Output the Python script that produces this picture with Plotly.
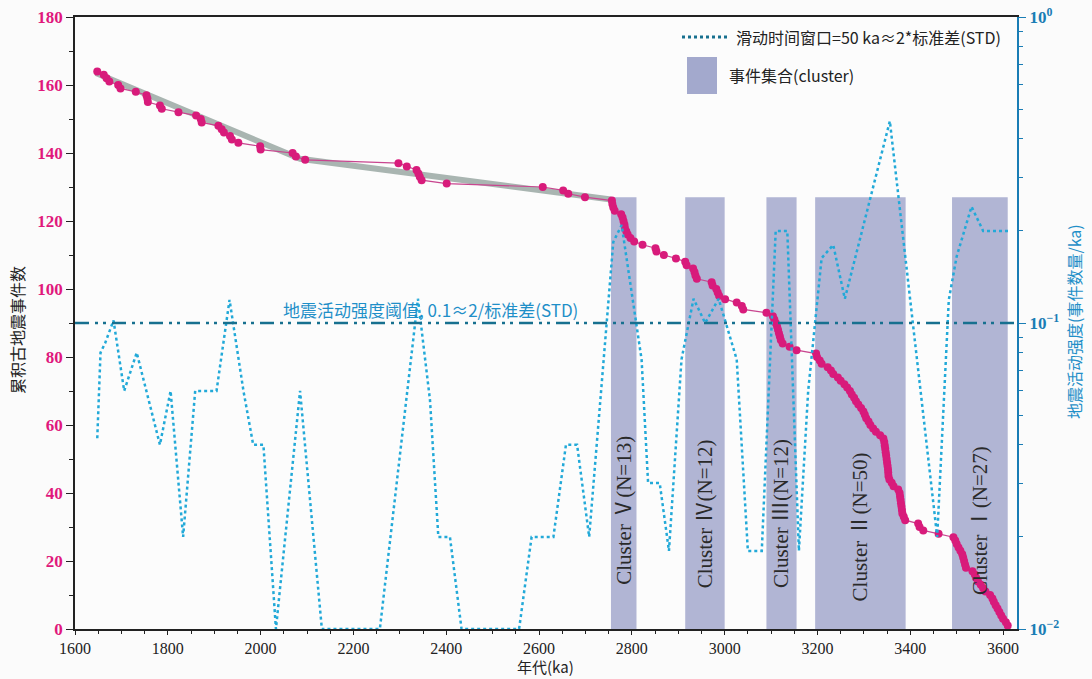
import plotly.graph_objects as go

# ---------------- data ----------------
# paleo-earthquake event ages (ka), youngest -> oldest
pre_ages = [1648, 1662, 1668, 1674, 1693, 1698, 1731, 1754, 1756, 1757, 1783, 1787,
            1823, 1861, 1871, 1873, 1909, 1916, 1921, 1934, 1938, 1952, 1999, 2000,
            2069, 2076, 2096, 2297, 2315, 2336, 2340, 2343, 2347, 2401, 2608, 2652,
            2663, 2699]
c5_ages = [2757, 2758, 2760, 2763, 2777, 2780, 2782, 2784, 2785, 2788, 2791, 2797, 2805]
gap54_ages = [2823, 2851, 2853, 2869, 2895]
c4_ages = [2915, 2918, 2932, 2935, 2937, 2940, 2972, 2974, 2982, 2985, 2988, 3001]
gap43_ages = [3026, 3037, 3040]
c3_ages = [3090, 3104, 3107, 3110, 3113, 3115, 3117, 3119, 3121, 3125, 3140, 3155]
c2_ages = [3197, 3199, 3205, 3209, 3222, 3229, 3234, 3244, 3250, 3258, 3264, 3270,
           3274, 3279, 3283, 3288, 3294, 3299, 3302, 3305, 3310, 3314, 3320, 3326,
           3335, 3342, 3344, 3345, 3346, 3347, 3348, 3349, 3350, 3351, 3352, 3352.5,
           3353, 3355, 3360, 3364, 3374, 3377, 3378, 3379, 3380, 3381, 3382, 3383,
           3386, 3389]
gap21_ages = [3417, 3420, 3428, 3461]
c1_ages = [3493, 3497, 3500, 3504, 3508, 3512, 3514, 3516, 3518, 3520, 3534, 3539,
           3542, 3546, 3552, 3557, 3562, 3572, 3577, 3580, 3584, 3588, 3592, 3596,
           3600, 3606, 3610]

# linear fit (gray band)
fit_age = [1645, 2085, 2755]
fit_count = [163.5, 138.3, 126.3]

# sliding-window seismic intensity (events/ka)
win_age = [1648, 1655, 1665, 1683, 1706, 1733, 1783, 1806, 1833, 1859, 1905, 1933,
           1963, 1984, 2006, 2033, 2085, 2132, 2257, 2339, 2365, 2383,
           2408, 2433, 2557, 2584, 2631, 2658, 2682, 2708, 2760, 2778, 2821, 2835,
           2860, 2880, 2907, 2933, 2958, 2987, 3026, 3050, 3080, 3090, 3110, 3135,
           3160, 3180, 3209, 3234, 3259, 3356, 3458, 3483, 3500, 3532, 3557, 3611]
win_rate = [0.042, 0.080, 0.086, 0.102, 0.060, 0.080, 0.040, 0.060, 0.020, 0.060,
            0.060, 0.119, 0.060, 0.040, 0.040, 0.010, 0.060, 0.010, 0.010, 0.120,
            0.056, 0.020, 0.020, 0.010, 0.010, 0.020, 0.020, 0.040,
            0.040, 0.020, 0.184, 0.209, 0.076, 0.030, 0.030, 0.018, 0.076, 0.120,
            0.100, 0.120, 0.076, 0.018, 0.018, 0.040, 0.200, 0.200, 0.018, 0.060,
            0.163, 0.180, 0.120, 0.457, 0.020, 0.119, 0.165, 0.240, 0.200, 0.200]

threshold = 0.1

# clusters
cluster_names = ["Cluster Ⅴ(N=13)", "Cluster Ⅳ(N=12)", "Cluster Ⅲ(N=12)",
                 "Cluster Ⅱ(N=50)", "Cluster Ⅰ(N=27)"]
cluster_start = [2755, 2915, 3090, 3195, 3490]
cluster_end = [2810, 3000, 3155, 3390, 3610]
cluster_top = 127
cluster_label_y = [35, 34, 34, 30, 32]

# ---------------- derived ----------------
ages = sorted(pre_ages + c5_ages + gap54_ages + c4_ages + gap43_ages + c3_ages +
              c2_ages + gap21_ages + c1_ages)
n = len(ages)
counts = [n - i for i in range(n)]  # cumulative count from oldest event

MAG = "#d81b7b"
CYAN = "#22a9d8"
TEAL = "#17708f"
BLUE = "#1a7db5"
BAND = "#b1b5d4"
SERIF = "Liberation Serif, Noto Sans CJK SC"
CJK = "Noto Sans CJK SC, Liberation Serif"

W, H = 1092, 679
ML, MR, MT, MB = 75, 75, 17, 50

fig = go.Figure()

fig.add_trace(go.Scatter(x=fit_age, y=fit_count, mode="lines",
                         line=dict(color="#a9b5b1", width=6), showlegend=False,
                         hoverinfo="skip"))
fig.add_trace(go.Scatter(x=ages, y=counts, mode="lines+markers",
                         line=dict(color="#c8458f", width=1.2),
                         marker=dict(color=MAG, size=8), showlegend=False))
fig.add_trace(go.Scatter(x=win_age, y=win_rate, mode="lines", yaxis="y2",
                         line=dict(color=CYAN, width=2.5, dash="dot"),
                         showlegend=False))
fig.add_trace(go.Scatter(x=[1600, 3630], y=[threshold, threshold], mode="lines",
                         yaxis="y2",
                         line=dict(color=TEAL, width=2.5,
                                   dash="14px,6px,3px,5px,3px,6px"),
                         showlegend=False))

def px2paper_x(px):
    return (px - ML) / (W - ML - MR)

def px2paper_y(py):
    return (H - MB - py) / (H - MT - MB)

shapes = []
annotations = []
for name, s, e, ly in zip(cluster_names, cluster_start, cluster_end, cluster_label_y):
    shapes.append(dict(type="rect", xref="x", yref="y", x0=s, x1=e, y0=0,
                       y1=cluster_top, fillcolor=BAND, line=dict(width=0),
                       layer="below"))
    annotations.append(dict(x=(s + e) / 2, y=ly, xref="x", yref="y", text=name,
                            textangle=-90, showarrow=False, xanchor="center",
                            yanchor="middle",
                            font=dict(family=SERIF, size=21, color="#2a2a2a")))

annotations.append(dict(x=2367, y=94, xref="x", yref="y",
                        xanchor="center", yanchor="middle",
                        text="地震活动强度阈值, 0.1≈2/标准差(STD)", showarrow=False,
                        font=dict(family=CJK, size=17, color="#1f8fc8")))

# custom legend
shapes.append(dict(type="line", xref="paper", yref="paper",
                   x0=px2paper_x(682), x1=px2paper_x(730),
                   y0=px2paper_y(37), y1=px2paper_y(37),
                   line=dict(color=TEAL, width=3, dash="dot")))
shapes.append(dict(type="rect", xref="paper", yref="paper",
                   x0=px2paper_x(687), x1=px2paper_x(717),
                   y0=px2paper_y(94), y1=px2paper_y(57),
                   fillcolor="#a3a9cd", line=dict(width=0)))
annotations.append(dict(x=px2paper_x(734), y=px2paper_y(37), xref="paper",
                        yref="paper", xanchor="left", yanchor="middle",
                        text="滑动时间窗口=50 ka≈2*标准差(STD)", showarrow=False,
                        font=dict(family=CJK, size=16, color="#222")))
annotations.append(dict(x=px2paper_x(727), y=px2paper_y(75), xref="paper",
                        yref="paper", xanchor="left", yanchor="middle",
                        text="事件集合(cluster)", showarrow=False,
                        font=dict(family=CJK, size=16, color="#222")))

# axis titles
annotations.append(dict(x=px2paper_x(17), y=px2paper_y(330), xref="paper",
                        yref="paper", text="累积古地震事件数", textangle=-90,
                        showarrow=False, xanchor="center", yanchor="middle",
                        font=dict(family=CJK, size=16, color="#222")))
annotations.append(dict(x=px2paper_x(1074), y=px2paper_y(322), xref="paper",
                        yref="paper", text="地震活动强度(事件数量/ka)",
                        textangle=-90, showarrow=False, xanchor="center",
                        yanchor="middle",
                        font=dict(family=CJK, size=16, color="#1f8fc8")))
annotations.append(dict(x=px2paper_x(545), y=px2paper_y(666), xref="paper",
                        yref="paper", text="年代(ka)", showarrow=False,
                        xanchor="center", yanchor="middle",
                        font=dict(family=CJK, size=15, color="#222")))

fig.update_layout(
    width=W, height=H,
    margin=dict(l=ML, r=MR, t=MT, b=MB, autoexpand=False),
    paper_bgcolor="#fbfbfb", plot_bgcolor="#fcfcfc",
    shapes=shapes, annotations=annotations, showlegend=False,
    xaxis=dict(range=[1600, 3630], dtick=200, tick0=1600, ticks="outside",
               ticklen=4, tickcolor="#222", showline=True, linecolor="#222",
               linewidth=1.5, mirror=True, showgrid=False, zeroline=False,
               automargin=False,
               minor=dict(dtick=50, ticks="outside", ticklen=3, tickcolor="#222"),
               tickfont=dict(family=SERIF, size=16, color="#222")),
    yaxis=dict(range=[0, 180], dtick=20, ticks="outside", ticklen=7,
               tickcolor="#222", showline=True, linecolor="#222", linewidth=1.5,
               showgrid=False, zeroline=False, automargin=False,
               minor=dict(dtick=10, ticks="outside", ticklen=4, tickcolor="#222"),
               tickfont=dict(family=SERIF, size=17, color="#e0187c", weight="bold")),
    yaxis2=dict(type="log", range=[-2, 0], overlaying="y", side="right",
                tickvals=[0.01, 0.1, 1],
                ticktext=["10<sup>−2</sup>", "10<sup>−1</sup>", "10<sup>0</sup>"],
                ticks="outside", ticklen=7, tickcolor=BLUE, showline=True,
                linecolor=BLUE, linewidth=2, showgrid=False, zeroline=False,
                automargin=False,
                minor=dict(tickvals=[0.02, 0.03, 0.04, 0.05, 0.06, 0.07, 0.08, 0.09,
                                     0.2, 0.3, 0.4, 0.5, 0.6, 0.7, 0.8, 0.9],
                           ticks="outside", ticklen=4, tickcolor=BLUE),
                tickfont=dict(family=SERIF, size=17, color=BLUE, weight="bold")),
)

fig.write_html("out.html", config={"displayModeBar": False},
               post_script="document.body.style.margin='0';"
                           "document.body.style.overflow='hidden';")
